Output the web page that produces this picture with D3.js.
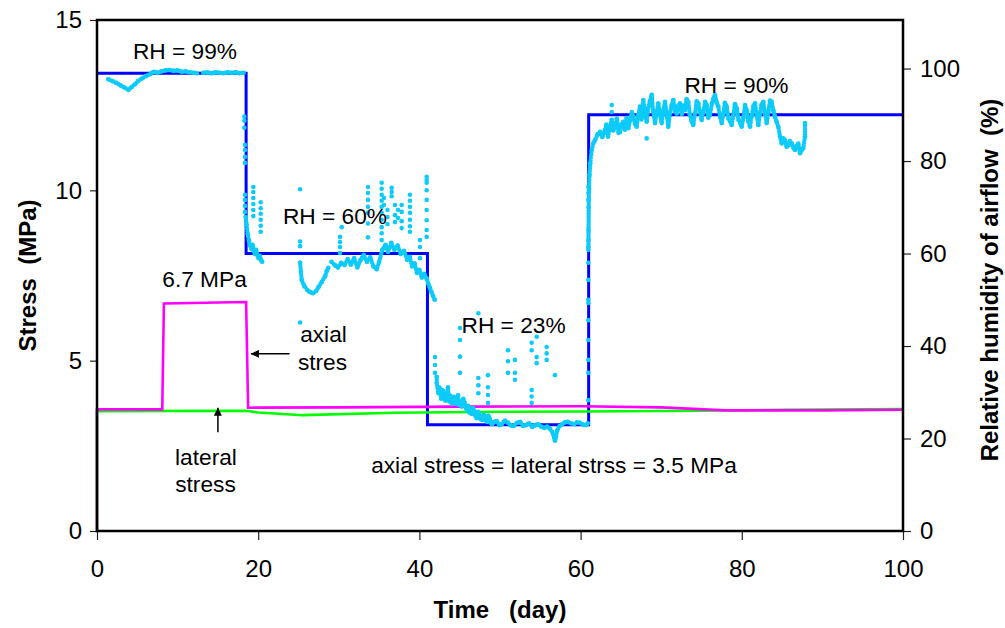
<!DOCTYPE html>
<html>
<head>
<meta charset="utf-8">
<script src="https://cdn.jsdelivr.net/npm/d3@7"></script>
<style>
  html, body { margin: 0; padding: 0; background: #fff; }
  svg { display: block; font-family: "Liberation Sans", Arial, sans-serif; }
  .pre { white-space: pre; }
</style>
</head>
<body>
<svg id="chart" width="1005" height="628"></svg>
<script>
// Axis ticks
const dayTicks = [0, 20, 40, 60, 80, 100];
const stressTicks = [0, 5, 10, 15];
const rhTicks = [0, 20, 40, 60, 80, 100];

// Relative humidity set point of the airflow (%)
const rhSetDay = [0, 18.5, 18.5, 41, 41, 61, 61, 100];
const rhSetValue = [99, 99, 60, 60, 23, 23, 90, 90];

// Axial stress (MPa)
const axialDay = [0, 0, 8.1, 8.3, 18.5, 18.75, 30, 45, 60, 70, 78, 90, 100];
const axialValue = [0, 3.57, 3.57, 6.68, 6.72, 3.62, 3.63, 3.65, 3.66, 3.63, 3.54, 3.54, 3.56];

// Lateral stress (MPa)
const lateralDay = [0, 0, 18.5, 20, 25.5, 37, 50, 60, 75, 85, 100];
const lateralValue = [0, 3.52, 3.53, 3.48, 3.40, 3.47, 3.50, 3.51, 3.53, 3.56, 3.58];

// Measured RH of the airflow: continuous readings [day, %], null = gap in the record
const rhTrace = [
  [1.4,97.7],[1.9,97.3],[2.4,96.9],[2.9,96.4],[3.4,95.9],[3.9,95.4],[4.3,96.0],[4.7,96.6],
  [5.1,97.3],[5.6,97.9],[6.1,98.4],[6.6,98.8],[7.0,99.3],[7.5,99.1],[8.0,99.4],[8.5,99.6],
  [9.0,99.7],[9.5,99.5],[10.0,99.6],[10.5,99.3],[11.0,99.4],[11.5,99.2],[12.0,99.1],[12.4,99.0],
  null,
  [13.2,99.1],[13.7,99.2],[14.2,99.0],[14.7,99.2],[15.2,99.1],[15.7,99.0],[16.2,99.2],[16.7,99.1],
  [17.2,99.2],[17.7,99.0],[18.2,99.1],
  null,
  [18.45,67.9],[18.55,66.3],[18.7,64.2],[18.85,62.8],[19.0,61.8],[19.15,61.0],[19.3,61.9],[19.45,60.6],
  [19.6,59.9],[19.75,60.8],[19.9,59.7],[20.05,59.0],[20.2,59.5],[20.35,58.6],[20.5,58.2],
  null,
  [25.2,58.0],[25.3,56.0],[25.4,54.3],[25.7,53.0],[26.1,52.1],[26.4,51.7],[26.8,51.4],[27.2,51.9],
  [27.5,52.8],[27.9,53.9],[28.3,55.1],[28.5,56.2],[28.7,56.9],
  null,
  [29.1,58.2],[29.5,57.5],[29.9,57.0],[30.3,58.0],[30.7,57.5],[31.1,58.8],[31.5,57.6],[31.9,59.0],
  [32.3,57.0],[32.7,58.6],[33.1,59.7],[33.5,58.2],[33.9,59.2],[34.3,57.2],[34.7,56.6],[35.0,58.2],
  [35.4,60.8],[35.8,61.9],[36.1,60.4],[36.5,62.3],[36.9,60.8],[37.3,61.7],[37.7,59.9],[38.1,60.6],
  [38.5,58.6],[38.8,59.3],[39.1,57.2],[39.4,57.9],[39.7,55.8],[40.0,56.5],[40.3,54.8],[40.6,55.6],
  [40.9,54.6],[41.1,53.5],[41.3,52.6],[41.5,51.7],[41.7,50.8],[41.9,50.0],
  null,
  [42.15,33.3],[42.15,32.0],[42.35,29.8],[42.5,31.0],[42.7,28.6],[42.85,30.4],[43.0,30.2],[43.2,28.2],
  [43.39,29.0],[43.55,30.6],[43.7,28.0],[43.85,29.3],[44.01,27.6],[44.15,28.6],[44.3,29.0],[44.45,27.5],
  [44.63,28.3],[44.8,29.4],[44.9,27.3],[45.1,28.1],[45.25,26.9],[45.45,28.6],[45.6,27.8],[45.75,26.7],
  [45.87,26.2],[46.05,27.1],[46.2,25.6],[46.35,26.4],[46.5,25.3],[46.65,26.6],[46.8,26.0],[46.95,25.0],
  [47.1,24.4],[47.3,25.8],[47.45,25.0],[47.6,24.2],[47.8,24.0],[47.95,25.2],[48.1,24.8],[48.25,23.9],
  [48.4,23.6],[48.55,24.9],[48.7,24.4],[48.85,23.5],[49.0,23.1],[49.3,23.6],[49.6,23.8],[49.9,22.9],
  [50.2,23.1],[50.6,23.9],[51.0,23.4],[51.35,22.8],[51.7,22.7],[52.1,23.4],[52.5,23.6],[52.85,22.7],
  [53.2,22.9],[53.6,23.3],[54.0,22.5],[54.35,22.9],[54.7,23.1],[55.1,22.6],[55.5,22.3],[55.85,22.6],
  [56.2,22.1],[56.5,21.4],[56.7,20.2],[56.82,19.5],[56.95,20.4],[57.1,21.8],[57.4,22.7],[57.7,23.1],
  [58.05,23.5],[58.4,23.6],[58.8,23.3],[59.2,23.1],[59.55,23.5],[59.9,23.4],[60.3,23.0],[60.7,22.9],
  [60.9,23.3],
  null,
  [60.96,61.4],[60.98,65.0],[61.0,70.0],[61.05,74.0],[61.1,77.0],[61.2,79.5],[61.38,82.4],[61.6,83.9],
  [61.79,84.5],[62.1,85.8],[62.41,86.3],[62.7,85.2],[63.03,86.7],[63.2,87.9],[63.40,85.3],[63.6,87.0],
  [63.86,88.9],[64.05,86.6],[64.27,87.4],[64.5,89.2],[64.7,86.1],[64.89,86.3],[65.1,88.0],[65.30,88.5],
  [65.5,86.8],[65.7,89.3],[65.92,87.1],[66.15,88.9],[66.35,90.6],[66.54,89.6],[66.75,88.0],[66.96,87.4],
  [67.15,89.9],[67.37,91.8],[67.55,89.0],[67.78,93.2],[68.0,90.1],[68.20,88.5],[68.4,91.5],[68.6,93.0],
  [68.82,94.3],[69.0,90.8],[69.23,88.2],[69.45,90.5],[69.64,92.5],[69.85,90.0],[70.06,88.2],[70.25,90.9],
  [70.47,92.8],[70.7,89.8],[70.88,87.4],[71.1,90.4],[71.3,92.1],[71.50,93.2],[71.7,90.9],[71.92,90.3],
  [72.1,91.9],[72.33,92.5],[72.55,90.2],[72.75,92.0],[72.95,91.0],[73.15,93.4],[73.36,92.8],[73.55,90.1],
  [73.78,88.6],[73.98,87.8],[74.2,90.3],[74.4,92.9],[74.60,92.5],[74.8,90.6],[75.02,88.9],[75.2,90.4],
  [75.45,92.8],[75.65,92.1],[75.85,89.4],[76.05,90.0],[76.3,92.5],[76.5,93.6],[76.67,94.3],[76.9,92.6],
  [77.08,91.8],[77.3,89.6],[77.51,88.2],[77.7,90.0],[77.9,92.6],[78.13,91.8],[78.35,89.2],[78.55,88.6],
  [78.75,87.8],[78.95,89.9],[79.15,92.3],[79.37,91.4],[79.6,88.9],[79.8,88.2],[79.99,87.4],[80.2,89.4],
  [80.4,92.1],[80.61,91.0],[80.8,88.6],[81.02,87.4],[81.2,89.6],[81.45,91.9],[81.64,92.5],[81.85,89.8],
  [82.05,87.8],[82.25,90.2],[82.45,92.2],[82.67,92.8],[82.9,90.1],[83.09,88.2],[83.3,90.6],[83.5,93.1],
  [83.71,92.8],[83.9,91.0],[84.12,89.6],[84.3,88.6],[84.53,87.4],[84.74,85.3],[84.95,83.8],[85.15,84.9],
  [85.36,84.5],[85.55,83.1],[85.77,83.4],[85.95,84.3],[86.19,83.8],[86.4,82.9],[86.60,82.4],[86.8,83.3],
  [87.01,83.8],[87.22,81.7],[87.4,82.3],[87.63,82.8],[87.84,85.3],[87.84,88.2]
];

// Measured RH: scattered single readings [day, %]
const rhScatter = [
  [18.28,89.6],[18.28,88.7],[18.28,87.2],
  [18.36,83.5],[18.36,82.4],[18.36,80.9],[18.36,79.6],
  [18.36,72.7],[18.36,71.6],[18.36,70.3],[18.36,69.0],
  [19.39,74.4],[19.39,73.3],[19.39,72.0],[19.39,70.7],[19.39,69.4],[19.39,68.1],
  [20.31,71.1],[20.31,69.8],[20.31,68.6],[20.31,67.3],[20.31,66.0],[20.31,64.7],
  [25.2,73.9],[25.2,62.6],[25.2,61.6],[25.2,45.1],
  [30.15,63.6],[30.15,62.5],[30.15,61.4],[30.15,60.1],[30.36,65.7],
  [33.62,74.4],[33.62,73.1],[33.62,71.6],[33.62,70.1],[33.62,68.8],[33.62,66.5],[33.62,63.5],
  [35.32,75.3],[35.32,74.0],[35.32,72.7],[35.32,71.4],[35.32,70.1],[35.32,68.8],[35.32,67.3],
  [35.32,65.7],[35.32,64.4],[35.32,62.9],
  [35.6,72.0],[35.6,70.5],
  [36.04,69.4],[36.04,67.9],[36.04,66.4],
  [36.56,74.2],[36.56,73.3],[36.56,72.4],
  [36.97,70.5],[36.97,68.3],[36.97,66.8],
  [37.35,69.4],[37.35,67.7],
  [37.80,70.5],[37.80,69.0],[37.80,67.0],[37.80,65.5],
  [38.83,72.7],[38.83,71.4],[38.83,70.1],[38.83,68.8],[38.83,67.3],[38.83,65.9],[38.83,64.7],
  [40.07,62.9],[40.07,61.4],[40.07,59.0],
  [40.90,76.6],[40.90,75.9],[40.90,75.3],[40.90,73.7],[40.90,71.6],[40.90,69.4],[40.90,67.2],
  [40.90,65.1],[40.90,63.6],
  [41.94,37.6],[41.94,35.9],[41.94,34.2],
  [43.55,31.1],
  [45.04,43.9],[45.04,41.3],[45.04,37.7],[45.04,34.2],
  [47.31,47.1],[47.31,33.1],[47.31,31.5],[47.31,29.8],
  [48.51,33.7],[48.51,31.1],[48.51,29.4],[48.51,27.7],
  [50.99,39.1],[50.99,36.7],[50.99,34.2],
  [51.86,37.0],[51.86,34.2],[51.86,32.7],
  [53.93,40.7],[53.93,39.1],[53.93,30.5],[53.93,29.1],[53.93,27.7],
  [54.55,42.0],[54.55,37.6],[54.55,36.3],
  [55.79,39.8],[55.79,38.4],[55.79,37.0],
  [56.82,33.7],
  [60.96,28.3],[60.96,34.2],[60.96,37.0],[60.96,41.3],[60.96,45.6],[60.96,49.3],[60.96,50.0],
  [60.96,54.3],[60.96,58.0],[60.96,60.8],[60.96,62.9],[60.96,71.6],[60.96,73.1],[60.96,74.4],
  [63.86,92.1],[63.86,90.6],[68.2,84.9]
];

// Text annotations, placed in data units (day, MPa)
const notes = [
  { text: "RH = 99%", day: 10.92, mpa: 13.85 },
  { text: "RH = 60%", day: 29.53, mpa: 9.01 },
  { text: "RH = 23%", day: 51.68, mpa: 5.81 },
  { text: "RH = 90%", day: 79.34, mpa: 12.86 },
  { text: "6.7 MPa", day: 13.34, mpa: 7.16 },
  { text: "axial", day: 28.1, mpa: 5.55 },
  { text: "stres", day: 27.98, mpa: 4.73 },
  { text: "lateral", day: 13.52, mpa: 1.94 },
  { text: "stress", day: 13.46, mpa: 1.14 },
  { text: "axial stress = lateral strss = 3.5 MPa", day: 56.7, mpa: 1.70 }
];
// Pointer arrows: from -> to (day, MPa)
const arrows = [
  { from: [23.9, 5.2], to: [19.1, 5.2] },
  { from: [15.0, 2.9], to: [15.0, 3.62] }
];

const svg = d3.select("#chart");
const plot = { left: 97, right: 903, top: 20, bottom: 531 };

const x = d3.scaleLinear().domain([0, 100]).range([plot.left, plot.right]);
const yL = d3.scaleLinear().domain([0, 15]).range([plot.bottom, plot.top]);
const yR = d3.scaleLinear().domain([0, 110.5]).range([plot.bottom, plot.top]);

const tickFont = 24;

// Axes
function styleAxis(g) {
  g.select(".domain").remove();
  g.selectAll(".tick line").attr("stroke", "#222").attr("stroke-width", 1.2);
  g.selectAll(".tick text").attr("font-size", tickFont).attr("fill", "#000")
    .attr("font-family", "'Liberation Sans', Arial, sans-serif");
}
svg.append("g").attr("transform", `translate(${plot.left},0)`)
  .call(d3.axisLeft(yL).tickValues(stressTicks).tickSize(7).tickPadding(8).tickFormat(d3.format("d")))
  .call(styleAxis);
svg.append("g").attr("transform", `translate(${plot.right},0)`)
  .call(d3.axisRight(yR).tickValues(rhTicks).tickSize(8).tickPadding(9).tickFormat(d3.format("d")))
  .call(styleAxis);
svg.append("g").attr("transform", `translate(0,${plot.bottom})`)
  .call(d3.axisBottom(x).tickValues(dayTicks).tickSize(9).tickPadding(20).tickFormat(d3.format("d")))
  .call(styleAxis);

// Series
const lineStress = d3.line().x(d => x(d[0])).y(d => yL(d[1]));
const lineRH = d3.line().defined(d => d !== null).x(d => x(d[0])).y(d => yR(d[1]));

svg.append("path")
  .attr("d", lineRH(rhSetDay.map((d, i) => [d, rhSetValue[i]])))
  .attr("fill", "none").attr("stroke", "#0000ff").attr("stroke-width", 3);

svg.append("path")
  .attr("d", lineStress(lateralDay.map((d, i) => [d, lateralValue[i]])))
  .attr("fill", "none").attr("stroke", "#00ff00").attr("stroke-width", 2.6);

svg.append("path")
  .attr("d", lineStress(axialDay.map((d, i) => [d, axialValue[i]])))
  .attr("fill", "none").attr("stroke", "#ff00ff").attr("stroke-width", 2.6);

const cyan = "#0ccbfa";
svg.append("path")
  .attr("d", lineRH(rhTrace))
  .attr("fill", "none").attr("stroke", cyan).attr("stroke-width", 4.4)
  .attr("stroke-linecap", "round").attr("stroke-linejoin", "round")
  .attr("stroke-dasharray", "0 2.8");

svg.append("g").selectAll("circle")
  .data(rhTrace.filter(d => d !== null).concat(rhScatter))
  .join("circle")
  .attr("cx", d => x(d[0])).attr("cy", d => yR(d[1])).attr("r", 2.3)
  .attr("fill", cyan);

// Plot frame
svg.append("rect")
  .attr("x", plot.left).attr("y", plot.top)
  .attr("width", plot.right - plot.left).attr("height", plot.bottom - plot.top)
  .attr("fill", "none").attr("stroke", "#000").attr("stroke-width", 2.5);

// Annotations
svg.append("g").selectAll("text")
  .data(notes).join("text")
  .attr("x", d => x(d.day)).attr("y", d => yL(d.mpa))
  .attr("text-anchor", "middle").attr("font-size", 22.7).attr("fill", "#000")
  .text(d => d.text);

svg.append("defs").append("marker")
  .attr("id", "head").attr("viewBox", "0 0 10 10").attr("refX", 10).attr("refY", 5)
  .attr("markerWidth", 8).attr("markerHeight", 8).attr("markerUnits", "userSpaceOnUse")
  .attr("orient", "auto")
  .append("path").attr("d", "M0,0 L10,5 L0,10 Z").attr("fill", "#000");

svg.append("g").selectAll("line")
  .data(arrows).join("line")
  .attr("x1", d => x(d.from[0])).attr("y1", d => yL(d.from[1]))
  .attr("x2", d => x(d.to[0])).attr("y2", d => yL(d.to[1]))
  .attr("stroke", "#000").attr("stroke-width", 1.5)
  .attr("marker-end", "url(#head)");

// Axis titles
svg.append("text").attr("class", "pre")
  .attr("transform", `translate(27,${(plot.top + plot.bottom) / 2}) rotate(-90)`)
  .attr("text-anchor", "middle").attr("dominant-baseline", "central")
  .attr("font-size", 24).attr("font-weight", "bold").text("Stress  (MPa)");
svg.append("text").attr("class", "pre")
  .attr("transform", `translate(989,280) rotate(-90)`)
  .attr("text-anchor", "middle").attr("dominant-baseline", "central")
  .attr("font-size", 24).attr("font-weight", "bold").text("Relative humidity of airflow  (%)");
svg.append("text").attr("class", "pre")
  .attr("x", (plot.left + plot.right) / 2).attr("y", 618)
  .attr("text-anchor", "middle")
  .attr("font-size", 24).attr("font-weight", "bold").text("Time   (day)");
</script>
</body>
</html>
